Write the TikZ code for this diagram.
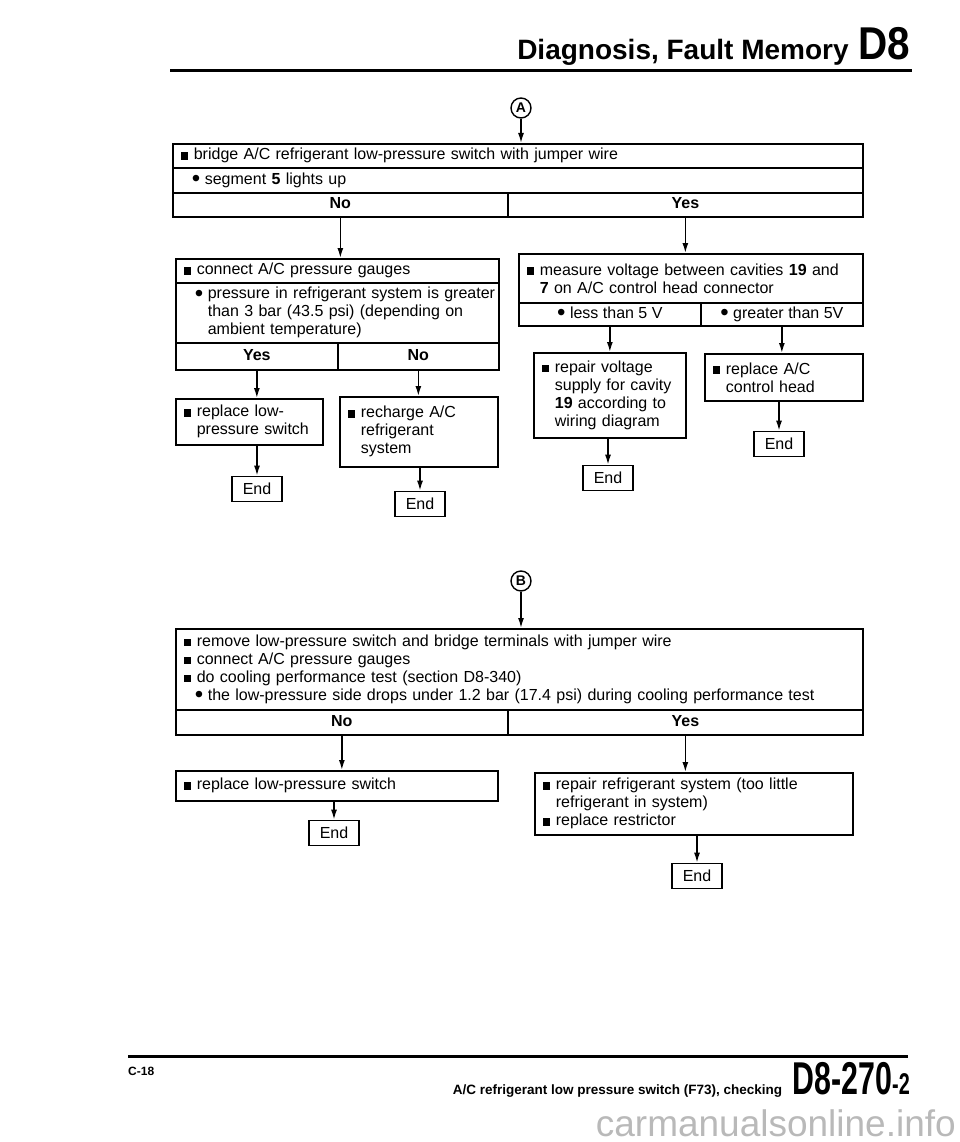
\documentclass[tikz,border=0pt]{standalone}
\usepackage{fontspec}
\setmainfont{Liberation Sans}
\usetikzlibrary{positioning,arrows.meta}

\newcommand{\bdot}{\raisebox{-2.2pt}{\scalebox{1.5}{\textbullet}}}
\newcommand{\actb}{\hspace*{2pt}\makebox[13pt][l]{\rule[0.3pt]{7.5pt}{7.5pt}}}
\newcommand{\condb}{\hspace*{13pt}\makebox[13pt][l]{\bdot}}
\newcommand{\hang}{\hspace*{15pt}}
\newcommand{\chang}{\hspace*{26pt}}

\begin{document}
\begin{tikzpicture}[x=1pt, y=-1pt, font=\fontsize{16}{18}\selectfont,
  box/.style={draw, line width=1.7pt, anchor=north west, inner xsep=6pt, inner ysep=0pt, align=left},
  ans/.style={draw, line width=1.7pt, anchor=north west, inner sep=0pt, text height=11.5pt, text depth=3.5pt, font=\fontsize{16}{18}\selectfont\bfseries},
  endbox/.style={draw, line width=1.7pt, inner sep=0pt, minimum width=50pt, minimum height=25pt},
  conn/.style={circle, draw, line width=1.4pt, inner sep=0pt, minimum size=20pt, font=\fontsize{14}{14}\selectfont\bfseries},
  flow/.style={line width=1.5pt, -{Latex[length=10pt,width=6pt]}}]
  \useasboundingbox (0,0) rectangle (960,1142);

  % header
  \node[anchor=base east, inner sep=0pt, font=\fontsize{46}{46}\selectfont\bfseries] (secno) at (910,60) {\scalebox{0.88}[1]{D8}};
  \node[anchor=base east, inner sep=0pt, font=\fontsize{28}{28}\selectfont\bfseries] (title) at ([xshift=-9pt]secno.base west) {Diagnosis, Fault Memory};
  \draw[line width=3pt] (170,71) -- (912,71);

  % part A
  \node[conn] (ca) at (521,108) {A};
  \node[box, text width=678pt, minimum height=24pt] (a1) at (172,143) {\actb bridge A/C refrigerant low-pressure switch with jumper wire};
  \node[box, text width=678pt, minimum height=25pt] (a2) at (172,167) {\condb segment \textbf{5} lights up};
  \node[ans, minimum width=335pt, minimum height=24pt] (a3l) at (172,192) {No};
  \node[ans, minimum width=355pt, minimum height=24pt] (a3r) at (507,192) {Yes};

  % A: No
  \node[box, text width=311pt, minimum height=24pt] (c1) at (175,258) {\actb connect A/C pressure gauges};
  \node[box, text width=311pt, minimum height=60pt] (c2) at (175,282) {\mbox{\condb pressure in refrigerant system is greater}\\\mbox{\chang than 3 bar (43.5 psi) (depending on}\\\chang ambient temperature)};
  \node[ans, minimum width=162pt, minimum height=27pt] (c3l) at (175,342) {Yes};
  \node[ans, minimum width=161pt, minimum height=27pt] (c3r) at (337,342) {No};
  \node[box, text width=135pt, minimum height=46pt] (d) at (175,398) {\actb replace low-\\\mbox{\hang pressure switch}};
  \node[box, text width=146pt, minimum height=70pt] (e) at (339,396) {\actb recharge A/C\\\hang refrigerant\\\hang system};
  \node[endbox] (enda) at (257,489) {End};
  \node[endbox] (endb) at (420,504) {End};

  % A: Yes
  \node[box, text width=332pt, minimum height=49pt] (f1) at (518,253) {\mbox{\actb measure voltage between cavities \textbf{19} and}\\\hang\textbf{7} on A/C control head connector};
  \node[ans, minimum width=182pt, minimum height=23pt, font=\fontsize{16}{18}\selectfont] (f2l) at (518,302) {\bdot\ less than 5 V};
  \node[ans, minimum width=162pt, minimum height=23pt, font=\fontsize{16}{18}\selectfont] (f2r) at (700,302) {\bdot\ greater than 5V};
  \node[box, text width=140pt, minimum height=85pt] (g) at (533,352) {\actb repair voltage\\\mbox{\hang supply for cavity}\\\hang\textbf{19} according to\\\hang wiring diagram};
  \node[box, text width=146pt, minimum height=47pt] (h) at (704,353) {\actb replace A/C\\\hang control head};
  \node[endbox] (endg) at (608,478) {End};
  \node[endbox] (endh) at (779,444) {End};

  % part B
  \node[conn] (cb) at (521,581) {B};
  \node[box, text width=675pt, minimum height=81pt] (i1) at (175,628) {\actb remove low-pressure switch and bridge terminals with jumper wire\\\actb connect A/C pressure gauges\\\actb do cooling performance test (section D8-340)\\\condb the low-pressure side drops under 1.2 bar (17.4 psi) during cooling performance test};
  \node[ans, minimum width=332pt, minimum height=25pt] (i2l) at (175,709) {No};
  \node[ans, minimum width=355pt, minimum height=25pt] (i2r) at (507,709) {Yes};
  \node[box, text width=310pt, minimum height=30pt] (j) at (175,770) {\actb replace low-pressure switch};
  \node[box, text width=306pt, minimum height=62pt] (k) at (534,772) {\actb repair refrigerant system (too little\\\hang refrigerant in system)\\\actb replace restrictor};
  \node[endbox] (endj) at (334,833) {End};
  \node[endbox] (endk) at (697,876) {End};

  % connectors
  \draw[flow] (ca) -- (ca |- a1.north);
  \draw[flow] (a3l.south) -- (a3l.south |- c1.north);
  \draw[flow] (a3r.south) -- (a3r.south |- f1.north);
  \draw[flow] (c3l.south) -- (c3l.south |- d.north);
  \draw[flow] (c3r.south) -- (c3r.south |- e.north);
  \draw[flow] (enda.north |- d.south) -- (enda);
  \draw[flow] (endb.north |- e.south) -- (endb);
  \draw[flow] (f2l.south) -- (f2l.south |- g.north);
  \draw[flow] (f2r.south) -- (f2r.south |- h.north);
  \draw[flow] (endg.north |- g.south) -- (endg);
  \draw[flow] (endh.north |- h.south) -- (endh);
  \draw[flow] (cb) -- (cb |- i1.north);
  \draw[flow] (i2l.south) -- (i2l.south |- j.north);
  \draw[flow] (i2r.south) -- (i2r.south |- k.north);
  \draw[flow] (endj.north |- j.south) -- (endj);
  \draw[flow] (endk.north |- k.south) -- (endk);

  % footer
  \draw[line width=3pt] (128,1056) -- (908,1056);
  \node[anchor=base west, inner sep=0pt, font=\fontsize{12}{12}\selectfont\bfseries] (page) at (128,1075) {C-18};
  \node[anchor=base east, inner sep=0pt, font=\bfseries] (pgnum) at (910,1094) {\scalebox{0.66}[1]{\fontsize{46}{46}\selectfont D8-270\fontsize{30}{30}\selectfont-2}};
  \node[anchor=base east, inner sep=0pt, font=\fontsize{13.5}{13.5}\selectfont\bfseries] (caption) at ([xshift=-10pt]pgnum.base west) {A/C refrigerant low pressure switch (F73), checking};
  \node[anchor=base east, inner sep=0pt, text=gray!55, font=\fontsize{37}{37}\selectfont] (wm) at (956,1136) {carmanualsonline.info};
\end{tikzpicture}
\end{document}
